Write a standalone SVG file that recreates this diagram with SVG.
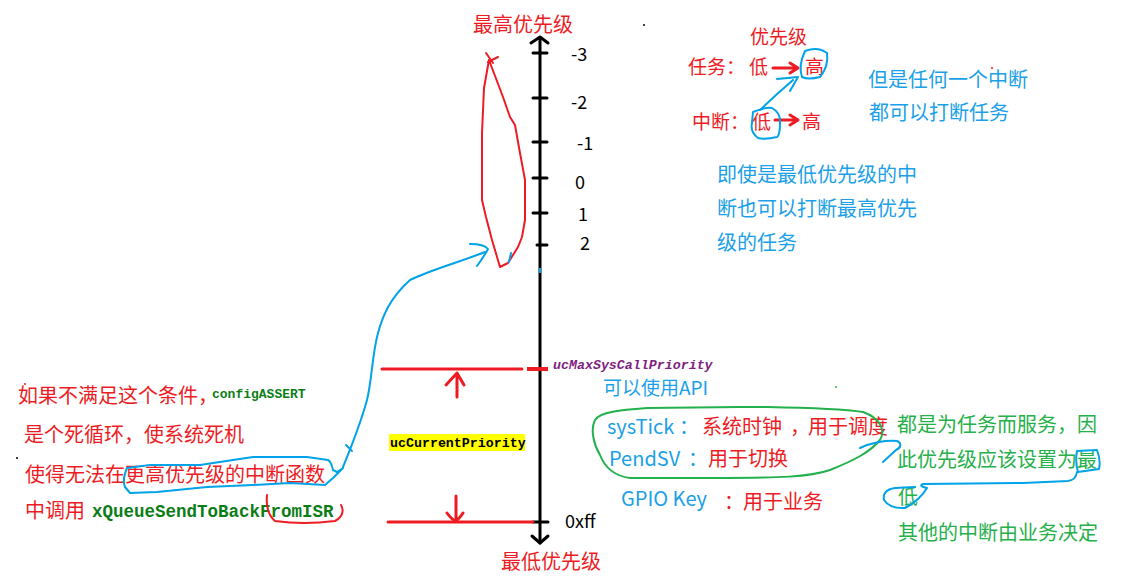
<svg xmlns="http://www.w3.org/2000/svg" width="1133" height="577" viewBox="0 0 1133 577">
<style>
text{font-family:"Noto Sans CJK SC","Microsoft YaHei",sans-serif;font-size:20px}
.r{fill:#ED1C24}
.b{fill:#1A9FE8}
.g{fill:#26B04A}
.k{fill:#000}
.num{font-size:18px;fill:#000}
.mono{font-family:"Liberation Mono","DejaVu Sans Mono",monospace;font-weight:bold}
.ax{stroke:#000;stroke-width:3;fill:none;stroke-linecap:round;stroke-linejoin:round}
.rl{stroke:#ED1C24;stroke-width:3;fill:none;stroke-linecap:round;stroke-linejoin:round}
.rt{stroke:#ED1C24;stroke-width:2;fill:none;stroke-linecap:round;stroke-linejoin:round}
.bl{stroke:#00A2E8;stroke-width:2;fill:none;stroke-linecap:round;stroke-linejoin:round}
.gl{stroke:#22B14C;stroke-width:2;fill:none;stroke-linecap:round;stroke-linejoin:round}
</style>
<rect width="1133" height="577" fill="#fff"/>

<g id="axis">
  <path class="ax" d="M540 38 L540 543"/>
  <path class="ax" d="M531 43 L540 37 L548 43"/>
  <path class="ax" d="M532 536 L540 543 L548 536"/>
  <path class="ax" d="M533 53 L547 53 M533 98 L547 98 M533 142 L547 142 M533 178 L547 178 M533 213 L547 213 M537 245 L547 245 M533 522 L548 522"/>
  <text class="num" x="571" y="61">-3</text>
  <text class="num" x="571" y="109">-2</text>
  <text class="num" x="577" y="150">-1</text>
  <text class="num" x="575" y="189">0</text>
  <text class="num" x="578" y="221">1</text>
  <text class="num" x="580" y="250">2</text>
  <text class="num" x="565" y="528">0xff</text>
  <rect x="539" y="268" width="2" height="5" fill="#00A2E8"/>
</g>

<g id="label-highest">
  <text class="r" x="473" y="32">最高优先级</text>
</g>
<g id="label-lowest">
  <text class="r" x="501" y="569">最低优先级</text>
</g>

<g id="high-range-lasso">
  <path class="rt" d="M489 60 L484 88 L482 133 L482 200 L486 217 L492 240 L500 267 L508 263 L518 247 L522 237 L525 220 L525 180 L520 153 L515 125 L510 117 L503 97 Z"/>
  <path class="rt" d="M486 53 L493 63 M488 62 L498 57"/>
</g>

<g id="max-syscall">
  <text class="mono" x="553" y="369" style="font-size:13.3px;font-style:italic;fill:#7F1F7F">ucMaxSysCallPriority</text>
  <text class="b" x="603" y="395" style="font-size:19px">可以使用API</text>
</g>

<g id="current-priority">
  <rect x="389" y="434" width="136" height="17" fill="#FFFF00"/>
  <text class="mono k" x="390" y="447" style="font-size:13.3px">ucCurrentPriority</text>
</g>

<g id="legend">
  <text class="r" x="750" y="44" style="font-size:19px">优先级</text>
  <text class="r" x="688" y="74" style="font-size:19px">任务：</text>
  <text class="r" x="749" y="74" style="font-size:19px">低</text>
  <text class="r" x="805" y="74" style="font-size:19px">高</text>
  <text class="r" x="692" y="129" style="font-size:19px">中断：</text>
  <text class="r" x="752" y="129" style="font-size:19px">低</text>
  <text class="r" x="802" y="129" style="font-size:19px">高</text>
</g>

<g id="note-any-interrupt">
  <text class="b" x="868" y="87">但是任何一个中断</text>
  <text class="b" x="869" y="120">都可以打断任务</text>
</g>

<g id="note-lowest-interrupt">
  <text class="b" x="717" y="182">即使是最低优先级的中</text>
  <text class="b" x="717" y="216">断也可以打断最高优先</text>
  <text class="b" x="717" y="250">级的任务</text>
</g>

<g id="note-assert">
  <text class="r" x="18" y="403">如果不满足这个条件，</text>
  <text class="mono" x="212" y="398" style="font-size:13px;fill:#0B7D16">configASSERT</text>
  <text class="r" x="24" y="442">是个死循环，使系统死机</text>
  <text class="r" x="25" y="482">使得无法在更高优先级的中断函数</text>
  <text class="r" x="25" y="518">中调用</text>
  <text class="mono" x="92" y="517" style="font-size:17.5px;fill:#0B7D16">xQueueSendToBackFromISR</text>
</g>

<g id="systick">
  <text class="b" x="607" y="434">sysTick</text>
  <text class="b" x="679" y="434">：</text>
  <text class="r" x="702" y="434">系统时钟</text>
  <text class="r" x="790" y="434">，</text>
  <text class="r" x="808" y="434">用于调度</text>
</g>
<g id="pendsv">
  <text class="b" x="609" y="466">PendSV</text>
  <text class="b" x="688" y="466">：</text>
  <text class="r" x="708" y="466">用于切换</text>
</g>
<g id="gpio">
  <text class="b" x="621" y="506">GPIO Key</text>
  <text class="r" x="724" y="509">：</text>
  <text class="r" x="743" y="509">用于业务</text>
</g>

<g id="note-service">
  <text class="g" x="897" y="432">都是为任务而服务，因</text>
  <text class="g" x="897" y="467">此优先级应该设置为最</text>
  <text class="g" x="898" y="504">低</text>
  <text class="g" x="898" y="540">其他的中断由业务决定</text>
</g>

<g id="connectors">
  <!-- range lines -->
  <path class="rl" d="M382 369 L522 369"/>
  <path d="M527 369 L548 369" stroke="#ED1C24" stroke-width="4"/>
  <path class="rl" d="M388 522 L533 522"/>
  <path class="rl" d="M457 397 L457 373 M446 385 L457 373 L464 385"/>
  <path class="rl" d="M456 496 L456 521 M447 513 Q452 520 456 521 Q460 518 463 513"/>
  <!-- legend arrows -->
  <path class="rl" d="M773 68 L797 68 M790 63 L798 68 L790 73"/>
  <path class="rl" d="M775 120 L797 120 M790 115 L798 120 L790 125"/>
  <path class="bl" d="M805 51 Q818 46 827 53 Q829 66 820 77 Q808 80 802 77 Q798 66 805 51"/>
  <path class="bl" d="M753 112 Q765 107 772 108 Q781 113 780 123 Q780 135 777 137 Q765 140 758 138 Q750 132 752 123 Z"/>
  <path class="bl" d="M760 110 L776 95 L793 80 M777 79 L798 77 L790 91"/>
  <!-- left loop and long curve -->
  <path class="bl" d="M343 468 L337 472 L333 470 Q331 461 328 460 L307 457 L253 457 L233 460 L200 465 L150 465 L127 468 Q122 480 125 487 L130 493 L157 492 L207 487 L253 485 L290 483 L325 485 L333 478 L343 468"/>
  <path class="bl" d="M343 467 C350 450 360 425 367 400 C372 380 372 355 378 333 C383 315 390 298 410 280 C430 270 460 262 485 252"/>
  <path class="bl" d="M470 244 Q484 244 488 249 Q483 258 477 266"/>
  <path class="bl" d="M346 445 L352 451"/>
  <path class="bl" d="M511 253 L509 262"/>
  <path class="rt" d="M267 495 C266 505 268 515 275 521 C295 524 320 523 335 521 C343 517 344 510 341 505"/>
  <!-- green loop -->
  <path class="gl" d="M595 420 C600 412 620 410 647 408 L740 407 L767 407 C820 408 850 410 863 412 C880 418 886 430 880 440 C870 452 855 460 830 470 C810 477 780 478 713 478 L630 478 C615 476 605 468 600 455 C594 445 590 430 595 420 Z"/>
  <!-- right blue marks -->
  <path class="bl" d="M860 448 C870 443 885 440 897 441 C902 443 901 448 896 450 L883 462"/>
  <path class="bl" d="M1077 451 L1097 450 Q1101 460 1099 469 L1078 472 Q1075 462 1077 451 M1077 472 Q1076 480 1068 481 L1023 483 L923 484 Q918 486 927 488 Q920 500 905 508 Q890 509 884 500 Q882 490 895 488 L915 487"/>
</g>

<g id="specks">
  <circle cx="644" cy="25" r="1" fill="#000"/>
  <circle cx="992" cy="68" r="1" fill="#ED1C24"/>
  <circle cx="836" cy="387" r="1" fill="#22B14C"/>
  <circle cx="17" cy="458" r="1" fill="#000"/>
  <circle cx="25" cy="384" r="1" fill="#ED1C24"/>
</g>
</svg>
